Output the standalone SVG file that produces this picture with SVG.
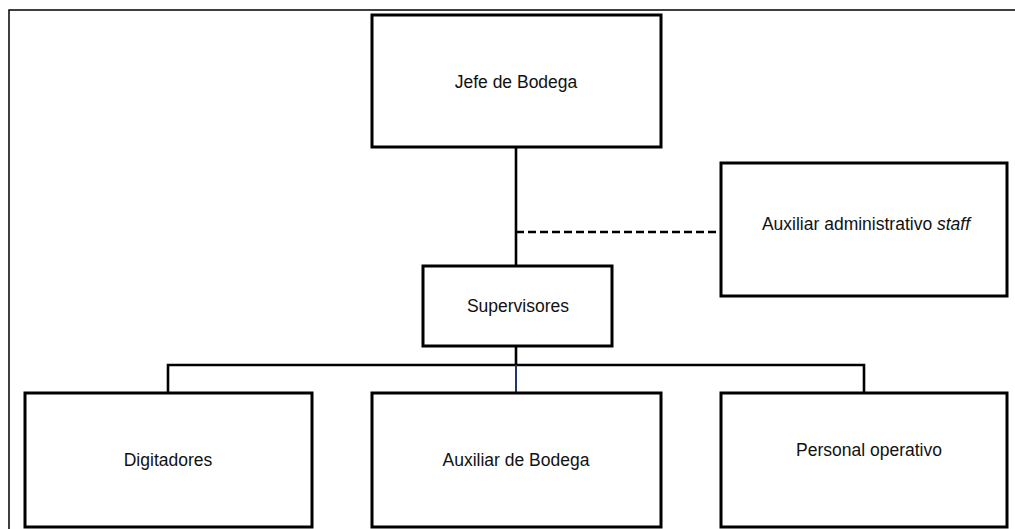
<svg xmlns="http://www.w3.org/2000/svg" width="1015" height="529" viewBox="0 0 1015 529">
  <style>
    .box { fill: #ffffff; stroke: #000000; stroke-width: 3; }
    .lbl { font-family: "Liberation Sans", Arial, sans-serif; font-size: 17.5px; fill: #111111; text-anchor: middle; }
    .link { fill: none; stroke: #000000; stroke-width: 2.6; }
    .staff { fill: none; stroke: #000000; stroke-width: 2.6; stroke-dasharray: 8 4; }
    .frame { fill: none; stroke: #000000; stroke-width: 1.5; }
  </style>
  <rect width="1015" height="529" fill="#ffffff"/>
  <!-- outer frame: top and left edges -->
  <path class="frame" d="M9,530 V10 H1015"/>

  <g id="connectors">
    <!-- Jefe de Bodega down to Supervisores -->
    <path class="link" d="M516,147 V266"/>
    <!-- staff relation -->
    <path class="staff" d="M516,232 H721"/>
    <!-- Supervisores to bus -->
    <path class="link" d="M516,346 V365"/>
    <!-- bus and drops -->
    <path class="link" d="M168,393 V365 H864 V393"/>
    <path fill="none" stroke="#1f3864" stroke-width="2" d="M516,365 V393"/>
  </g>

  <g id="jefe">
    <rect class="box" x="372" y="15" width="289" height="132"/>
    <text class="lbl" x="516" y="88">Jefe de Bodega</text>
  </g>
  <g id="auxiliar-administrativo">
    <rect class="box" x="721" y="163" width="286" height="133"/>
    <text class="lbl" x="866" y="230">Auxiliar administrativo <tspan font-style="italic">staff</tspan></text>
  </g>
  <g id="supervisores">
    <rect class="box" x="423" y="266" width="189" height="80"/>
    <text class="lbl" x="518" y="312">Supervisores</text>
  </g>
  <g id="digitadores">
    <rect class="box" x="25" y="393" width="287" height="134"/>
    <text class="lbl" x="168" y="466">Digitadores</text>
  </g>
  <g id="auxiliar-bodega">
    <rect class="box" x="372" y="393" width="289" height="134"/>
    <text class="lbl" x="516" y="466">Auxiliar de Bodega</text>
  </g>
  <g id="personal-operativo">
    <rect class="box" x="721" y="393" width="286" height="134"/>
    <text class="lbl" x="869" y="456">Personal operativo</text>
  </g>
</svg>
